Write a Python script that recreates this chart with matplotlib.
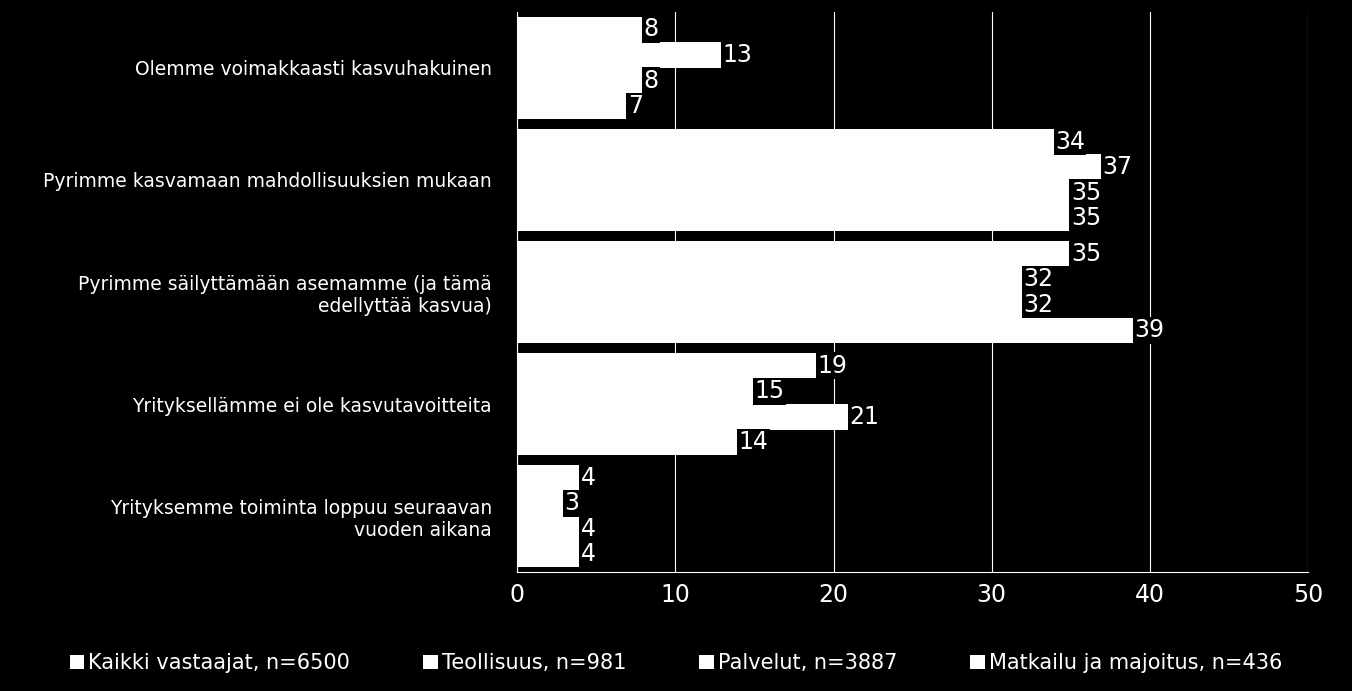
import matplotlib
matplotlib.use("Agg")
import matplotlib.pyplot as plt
import numpy as np

categories = ["Olemme voimakkaasti kasvuhakuinen",
              "Pyrimme kasvamaan mahdollisuuksien mukaan",
              "Pyrimme säilyttämään asemamme (ja tämä\nedellyttää kasvua)",
              "Yrityksellämme ei ole kasvutavoitteita",
              "Yrityksemme toiminta loppuu seuraavan\nvuoden aikana"]
series = ["Kaikki vastaajat, n=6500", "Teollisuus, n=981", "Palvelut, n=3887", "Matkailu ja majoitus, n=436"]
kaikki = [8, 34, 35, 19, 4]
teollisuus = [13, 37, 32, 15, 3]
palvelut = [8, 35, 32, 21, 4]
matkailu = [7, 35, 39, 14, 4]
values = [kaikki, teollisuus, palvelut, matkailu]

fig = plt.figure(figsize=(13.52, 6.91), dpi=100, facecolor="black")
ax = fig.add_axes([0.3825, 0.172, 0.585, 0.811], facecolor="black")
h = 0.228
y0 = np.arange(len(categories))
for i, vals in enumerate(values):
    ys = y0 - 1.5 * h + i * h
    bars = ax.barh(ys, vals, height=h, color="white", zorder=3, label=series[i])
    for y, v in zip(ys, vals):
        ax.text(v, y, f"{v}", color="white", fontsize=17, va="center", ha="left",
                zorder=4, bbox=dict(facecolor="black", edgecolor="none", pad=1))
ax.set_ylim(len(categories) - 0.5, -0.5)
ax.set_xlim(0, 50)
ax.set_xticks(range(0, 51, 10))
ax.set_yticks(y0)
ax.set_yticklabels(categories, color="white", fontsize=13.5)
ax.tick_params(axis="x", colors="white", labelsize=17, length=0, pad=8)
ax.tick_params(axis="y", length=0, pad=18)
ax.grid(axis="x", color="white", linewidth=0.8, zorder=0)
for s in ["top", "right"]:
    ax.spines[s].set_visible(False)
for s in ["left", "bottom"]:
    ax.spines[s].set_color("white")
leg = fig.legend(loc="center", bbox_to_anchor=(0.5, 0.04), ncol=4, frameon=False,
                 fontsize=15, handlelength=0.7, handleheight=0.7, handletextpad=0.2,
                 columnspacing=3.5)
for t in leg.get_texts():
    t.set_color("white")
fig.savefig("out.png", dpi=100, facecolor="black")
